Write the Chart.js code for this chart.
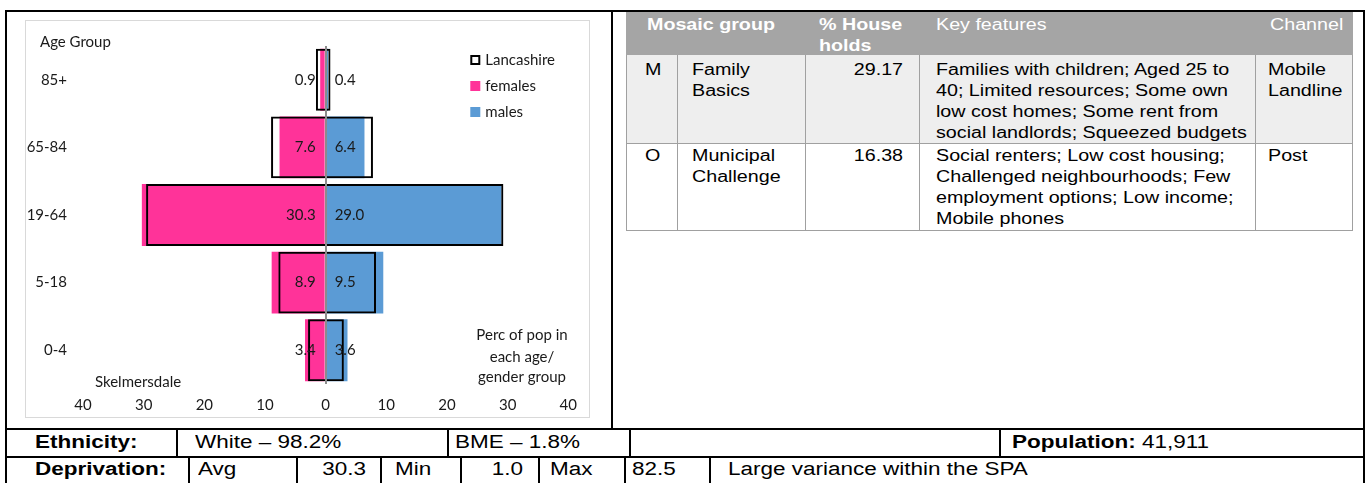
<!DOCTYPE html>
<html><head><meta charset="utf-8">
<script src="https://cdn.jsdelivr.net/npm/chart.js@4.4.1/dist/chart.umd.min.js"></script>
<style>
html,body{margin:0;padding:0;background:#fff;}
body{width:1370px;height:483px;position:relative;overflow:hidden;font-family:"Liberation Sans",Arial,sans-serif;}
.b{position:absolute;}
.t{position:absolute;white-space:nowrap;}
.t span{display:inline-block;}
#cw{position:absolute;left:25px;top:20px;width:565px;height:398px;border:1px solid #d9d9d9;box-sizing:border-box;}
#cw canvas{display:block;}
</style></head>
<body>
<div id="cw"><canvas id="c" width="563" height="396"></canvas></div>
<script>
// ---------- chart data ----------
const ageGroups = ['85+', '65-84', '19-64', '5-18', '0-4'];
const femalesPct = [0.9, 7.6, 30.3, 8.9, 3.4];
const malesPct = [0.4, 6.4, 29.0, 9.5, 3.6];
const lancFemalesPct = [1.6, 9.0, 29.6, 7.8, 2.9];
const lancMalesPct = [0.8, 7.8, 29.3, 8.3, 3.0];
const xTickValues = [-40, -30, -20, -10, 0, 10, 20, 30, 40];
const seriesNames = ['Lancashire', 'females', 'males'];

// ---------- layout helpers (page furniture) ----------
function box(x, y, w, h, c) {
  const d = document.createElement('div');
  d.className = 'b';
  Object.assign(d.style, {left: x + 'px', top: y + 'px', width: w + 'px', height: h + 'px', background: c});
  document.body.appendChild(d);
}
function put(html, x, yc, o) {
  o = Object.assign({size: 16, bold: false, color: '#000', align: 'left', sx: 1.23}, o || {});
  const d = document.createElement('div');
  d.className = 't';
  const lh = Math.round(o.size * 1.2);
  Object.assign(d.style, {fontSize: o.size + 'px', lineHeight: lh + 'px', top: (yc - lh / 2) + 'px',
    color: o.color, fontWeight: o.bold ? 'bold' : 'normal'});
  if (o.align === 'right') d.style.right = (1370 - x) + 'px'; else d.style.left = x + 'px';
  const s = document.createElement('span');
  s.innerHTML = html;
  s.style.transform = 'scaleX(' + o.sx + ')';
  s.style.transformOrigin = o.align === 'right' ? '100% 50%' : '0 50%';
  d.appendChild(s);
  document.body.appendChild(d);
}

// outer frame
box(5, 10, 1360, 2, '#000');
box(5, 10, 2, 473, '#000');
box(1363, 10, 2, 473, '#000');
box(611, 10, 2, 420, '#000');
// bottom rows
box(5, 428, 1360, 2, '#000');
box(5, 456, 1360, 2, '#000');
[176, 447, 629, 999].forEach(x => box(x, 430, 2, 26, '#000'));
[188, 296, 380, 460, 538, 624, 709].forEach(x => box(x, 458, 2, 25, '#000'));

// right table
box(626, 12, 727, 43, '#a5a5a5');
box(626, 55, 727, 88, '#eeeeee');
const g = '#a0a0a0';
box(626, 143, 727, 1, g);
box(626, 230, 727, 1, g);
box(626, 55, 1, 176, g);
box(1352, 55, 1, 176, g);
[677, 805, 919, 1255].forEach(x => box(x, 55, 1, 176, g));

const W = {color: '#fff'};
put('Mosaic group', 647, 24, {bold: true, color: '#fff'});
put('% House', 819, 24, {bold: true, color: '#fff'});
put('holds', 819, 45, {bold: true, color: '#fff'});
put('Key features', 936, 24, W);
put('Channel', 1270, 24, W);

put('M', 645, 69);
put('Family', 692, 69); put('Basics', 692, 90);
put('29.17', 903, 69, {align: 'right'});
['Families with children; Aged 25 to', '40; Limited resources; Some own', 'low cost homes; Some rent from', 'social landlords; Squeezed budgets']
  .forEach((l, i) => put(l, 936, 69 + i * 21));
put('Mobile', 1268, 69); put('Landline', 1268, 90);

put('O', 645, 155);
put('Municipal', 692, 155); put('Challenge', 692, 176);
put('16.38', 903, 155, {align: 'right'});
['Social renters; Low cost housing;', 'Challenged neighbourhoods; Few', 'employment options; Low income;', 'Mobile phones']
  .forEach((l, i) => put(l, 936, 155 + i * 21));
put('Post', 1268, 155);

const B = {size: 18, sx: 1.25};
put('Ethnicity:', 35, 442, {size: 18, sx: 1.25, bold: true});
put('White – 98.2%', 195, 442, B);
put('BME – 1.8%', 455, 442, B);
put('<b>Population:</b> 41,911', 1012, 442, B);
put('Deprivation:', 35, 469, {size: 18, sx: 1.25, bold: true});
put('Avg', 198, 469, B);
put('30.3', 366, 469, {size: 18, sx: 1.25, align: 'right'});
put('Min', 395, 469, B);
put('1.0', 523, 469, {size: 18, sx: 1.25, align: 'right'});
put('Max', 550, 469, B);
put('82.5', 632, 469, B);
put('Large variance within the SPA', 728, 469, B);

// ---------- chart ----------
const FONT = 'Lato, "Open Sans", sans-serif';
const annot = {
  id: 'annot',
  afterDatasetsDraw(chart) {
    const {ctx, scales: {x, y}, chartArea} = chart;
    ctx.save();
    ctx.font = '15px ' + FONT;
    ctx.fillStyle = '#1a1a1a';
    ctx.textBaseline = 'middle';
    const x0 = x.getPixelForValue(0);
    ageGroups.forEach((gname, i) => {
      const yy = y.getPixelForValue(i);
      ctx.textAlign = 'right';
      ctx.fillText(femalesPct[i].toFixed(1), x0 - 10, yy);
      ctx.textAlign = 'left';
      ctx.fillText(malesPct[i].toFixed(1), x0 + 9, yy);
    });
    // texts
    ctx.textAlign = 'left';
    ctx.fillText('Age Group', 14, 21);
    ctx.fillText('Skelmersdale', 69, 361);
    ctx.textAlign = 'center';
    ['Perc of pop in', 'each age/', 'gender group'].forEach((l, i) => ctx.fillText(l, 496, 314 + [0, 22, 42][i]));
    // legend
    const ds = chart.data.datasets;
    const lx = chartArea.right - 98;
    ds.forEach((d, i) => {
      const ly = 39 + i * 26;
      if (i === 0) {
        ctx.fillStyle = '#fff'; ctx.fillRect(lx, ly - 5, 10, 10);
        ctx.strokeStyle = '#000'; ctx.lineWidth = 2; ctx.strokeRect(lx + 1, ly - 4, 8, 8);
      } else {
        ctx.fillStyle = d.backgroundColor; ctx.fillRect(lx, ly - 5, 10, 10);
      }
      ctx.fillStyle = '#1a1a1a';
      ctx.textAlign = 'left';
      ctx.fillText(d.label, lx + 15, ly);
    });
    ctx.restore();
  }
};

new Chart(document.getElementById('c'), {
  type: 'bar',
  data: {
    labels: ageGroups,
    datasets: [
      {label: seriesNames[0], data: ageGroups.map((a, i) => [-lancFemalesPct[i], lancMalesPct[i]]),
       backgroundColor: 'rgba(255,255,255,0)', borderColor: '#000', borderWidth: 2, borderSkipped: false, order: 0},
      {label: seriesNames[1], data: femalesPct.map(v => -v), backgroundColor: '#FF3399', borderWidth: 0, order: 1},
      {label: seriesNames[2], data: malesPct, backgroundColor: '#5B9BD5', borderWidth: 0, order: 2}
    ]
  },
  options: {
    indexAxis: 'y',
    responsive: false,
    animation: false,
    devicePixelRatio: 1,
    datasets: {bar: {grouped: false, categoryPercentage: 1, barPercentage: 0.915}},
    layout: {padding: {top: 24, right: 16, left: 0, bottom: 0}},
    plugins: {legend: {display: false}, tooltip: {enabled: false}},
    scales: {
      x: {
        type: 'linear', min: -40, max: 40,
        afterBuildTicks: s => { s.ticks = xTickValues.map(v => ({value: v})); },
        afterFit: s => { s.height = 33; },
        ticks: {callback: v => Math.abs(v), font: {family: FONT, size: 15}, color: '#1a1a1a', padding: 12, maxRotation: 0},
        grid: {color: c => (c.tick && c.tick.value === 0) ? '#8c8c8c' : 'rgba(0,0,0,0)', lineWidth: 2, drawTicks: false, z: 1},
        border: {display: false}
      },
      y: {
        afterFit: s => { s.width = 57; },
        ticks: {font: {family: FONT, size: 15}, color: '#1a1a1a', padding: 16},
        grid: {display: false, drawTicks: false},
        border: {display: false}
      }
    }
  },
  plugins: [annot]
});
</script>
</body></html>
